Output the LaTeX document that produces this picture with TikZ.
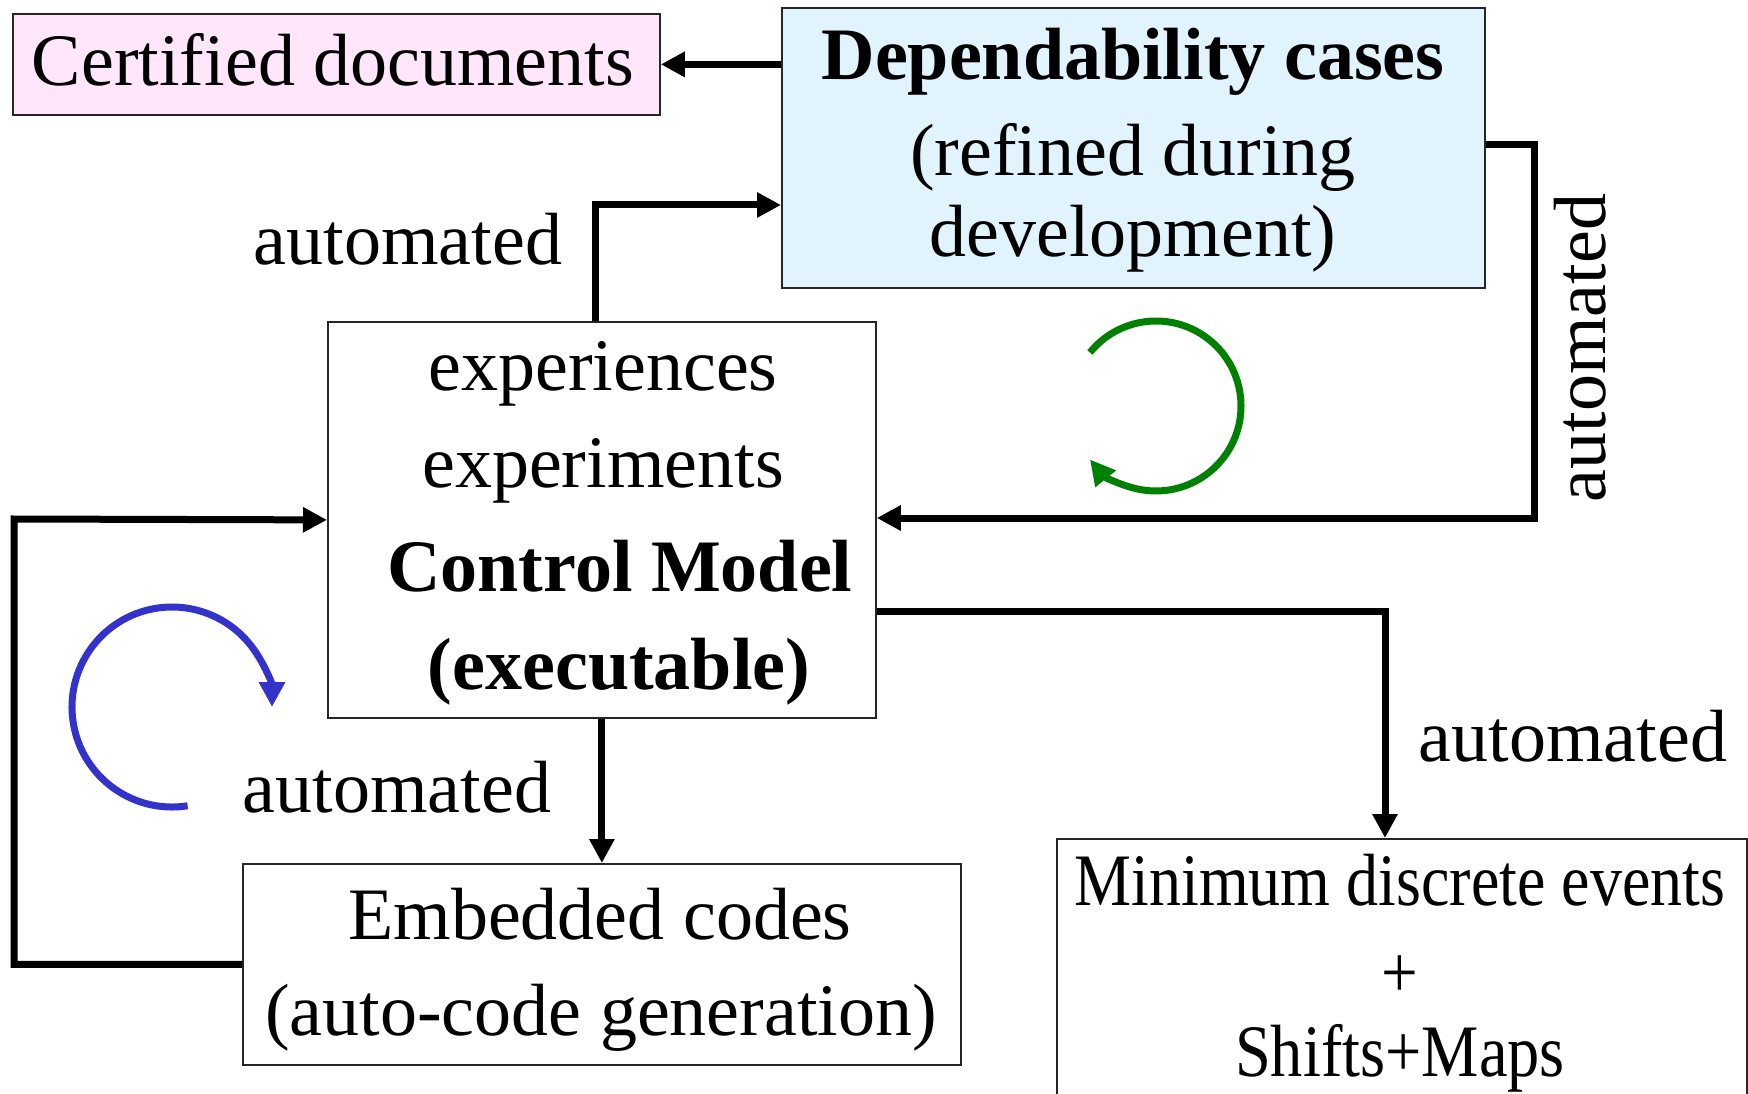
\documentclass[tikz,border=0pt]{standalone}
\usepackage{fontspec}
\usepackage{graphicx}
\setmainfont{Liberation Serif}
\usetikzlibrary{arrows.meta,calc}
\definecolor{pinkfill}{RGB}{255,230,250}
\definecolor{bluefill}{RGB}{225,243,253}
\definecolor{loopgreen}{RGB}{0,128,0}
\definecolor{loopblue}{RGB}{51,51,204}

\begin{document}
\begin{tikzpicture}[x=1pt,y=1pt,
  box/.style={draw=black!85, line width=1.8pt, inner sep=0pt, anchor=north west},
  conn/.style={line width=7pt, -{Triangle[length=24pt,width=24pt]}},
  looparrow/.style={line width=7pt, -{Triangle[length=25pt,width=25pt]}},
  txt/.style={font=\fontsize{74}{88}\selectfont, anchor=base, inner sep=0pt},
  btxt/.style={font=\fontsize{74}{88}\selectfont\bfseries, anchor=base, inner sep=0pt},
]
\useasboundingbox (0,0) rectangle (1748,-1094);
\clip (0,0) rectangle (1748,-1094);

% boxes
\node[box, fill=pinkfill, minimum width=647, minimum height=101] (cert) at (12,-13) {};
\node[box, fill=bluefill, minimum width=703, minimum height=280] (dep) at (781,-7) {};
\node[box, fill=white, minimum width=548, minimum height=396] (ctrl) at (327,-321) {};
\node[box, fill=white, minimum width=718, minimum height=201] (emb) at (242,-863) {};
\node[box, fill=white, minimum width=690, minimum height=300] (mde) at (1056,-838) {};

% box texts
\node[txt] (certT) at (333,-86) {Certified documents};
\node[btxt] (depT1) at (1133,-80) {Dependability cases};
\node[txt] (depT2) at (1133,-176) {(refined during};
\node[txt] (depT3) at (1133,-256) {development)};
\node[txt] (ctrlT1) at (603,-390) {experiences};
\node[txt] (ctrlT2) at (603,-487) {experiments};
\node[btxt] (ctrlT3) at (620,-591) {Control Model};
\node[btxt] (ctrlT4) at (619,-689) {(executable)};
\node[txt] (embT1) at (600,-939) {Embedded codes};
\node[txt] (embT2) at (601,-1035) {(auto-code generation)};
\node[txt] (mdeT1) at (1400,-905) {\scalebox{0.865}[1]{Minimum discrete events}};
\node[txt] (mdeT2) at (1400,-997) {\scalebox{0.88}[1]{+}};
\node[txt] (mdeT3) at (1400,-1076) {\scalebox{0.87}[1]{Shifts+Maps}};

% connector labels
\node[txt] (lblA) at (408,-265) {automated};
\node[txt] (lblB) at (397,-812) {automated};
\node[txt] (lblC) at (1573,-761) {automated};
\node[txt, rotate=90] (lblD) at (1605,-348) {automated};

% bend points
\coordinate (tb) at (595,-205);
\coordinate (rt) at (1534,-145);
\coordinate (rbend) at (1534,-518);
\coordinate (lc) at (14,-519);
\coordinate (rb) at (1385,-611);

% connectors
\draw[conn] (dep.west |- cert.east) -- (cert.east);
\draw[conn] (ctrl.north -| tb) |- (dep.west |- tb);
\draw[conn] (dep.east |- rt) -- (rt) -- (rbend) -- (ctrl.east |- rbend);
\draw[conn] (ctrl.south) -- (emb.north);
\draw[conn] (emb.west) -| (lc) -- (ctrl.west);
\draw[conn] (ctrl.east |- rb) -| (mde.north -| rb);

% cycle marks
\coordinate (gc) at (1156,-406);
\draw[looparrow, loopgreen] (gc) ++(141:85) arc[start angle=141, end angle=-141, radius=85];
\coordinate (bc) at (172,-707);
\draw[looparrow, loopblue] (bc) ++(279:100) arc[start angle=279, end angle=0, radius=100];
\end{tikzpicture}
\end{document}
